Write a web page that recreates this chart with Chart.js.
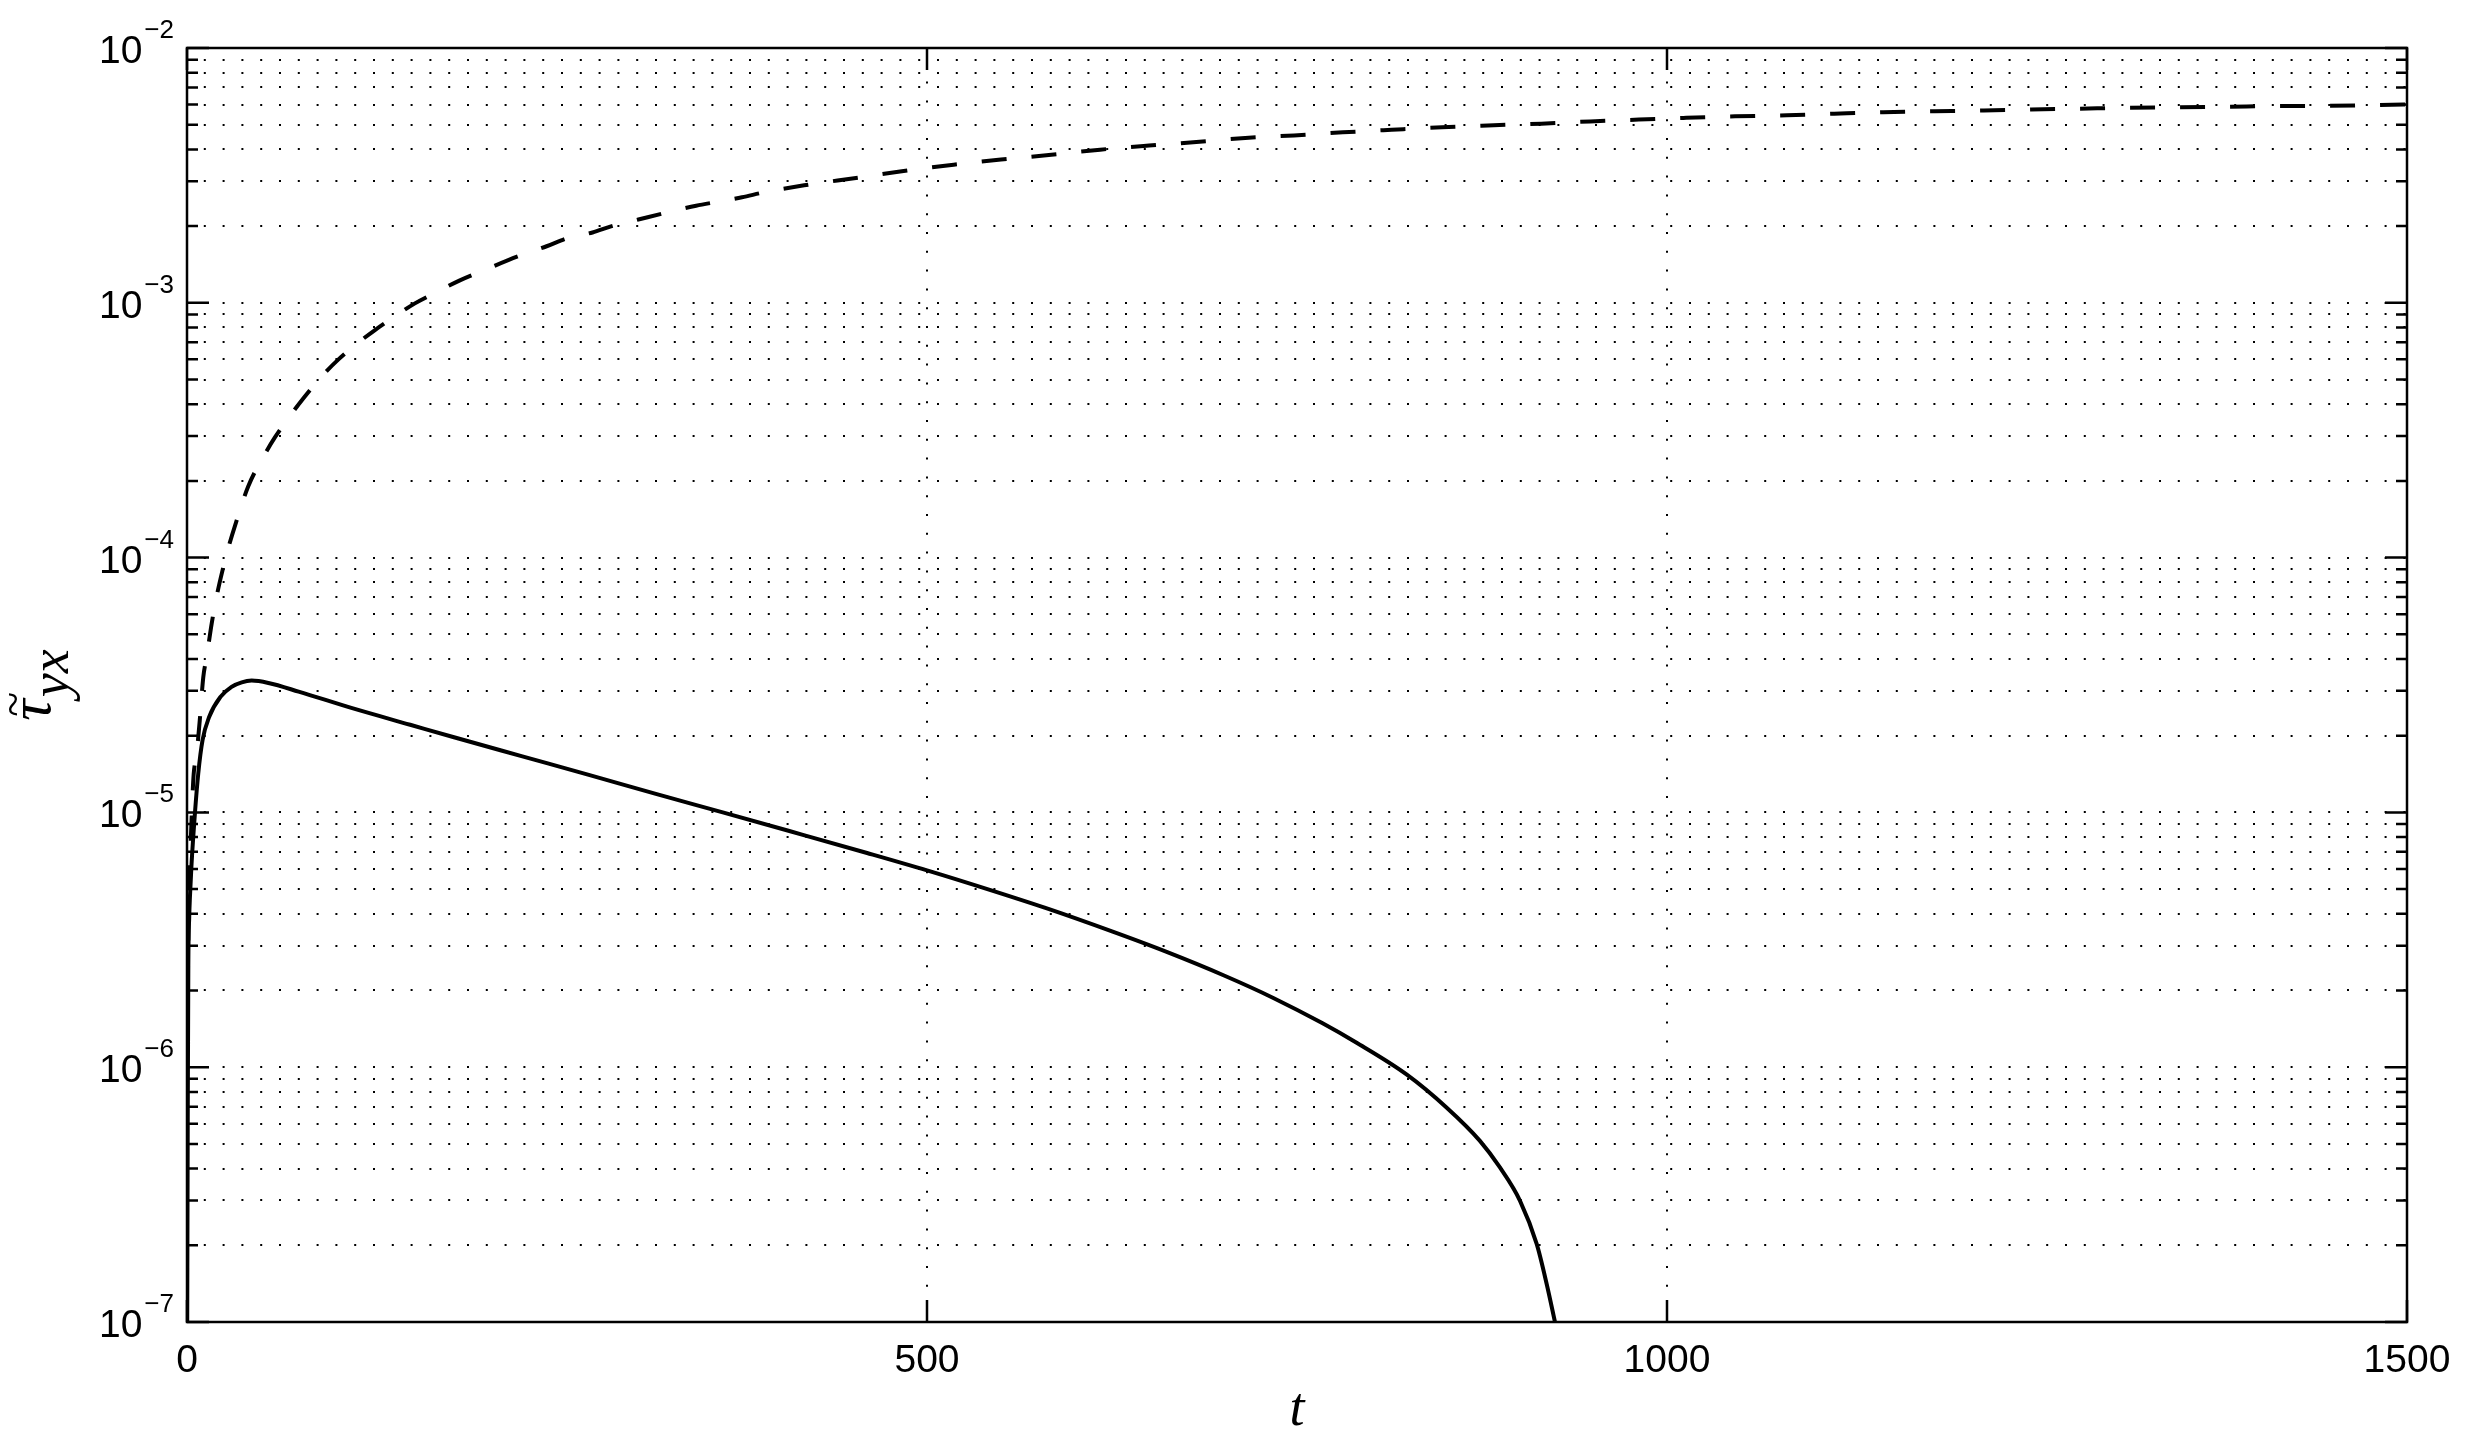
<!DOCTYPE html>
<html>
<head>
<meta charset="utf-8">
<script src="https://cdn.jsdelivr.net/npm/chart.js@4.4.0/dist/chart.umd.min.js"></script>
<style>
  html, body { margin: 0; padding: 0; background: #fff; }
  canvas { display: block; }
</style>
</head>
<body>
<canvas id="chart" width="2468" height="1444"></canvas>
<script>
// valeurs (t, tau_yx)
var tDashed = [0.5, 1.5, 2.4, 3.6, 4.5, 6.5, 8.6, 11, 13.3, 16.7, 20, 24, 28.4, 32.3, 41.4, 53, 59.5, 69.8, 78.8, 90.5,
  102, 114, 127, 141, 154, 169, 184, 199, 228, 243, 257, 274, 287, 305, 326, 344, 358, 375, 390, 417,
  452, 483, 518, 550, 584, 617, 650, 682, 715, 748, 781, 814, 848, 883, 915, 948, 981, 1013, 1046, 1081,
  1113, 1146, 1181, 1214, 1246, 1279, 1309, 1344, 1377, 1410, 1444, 1477, 1500];
var tauDashed = [2.0e-6, 5.9e-6, 7.4e-6, 1.12e-5, 1.41e-5, 1.70e-5, 2.29e-5, 3.39e-5, 4.08e-5, 5.52e-5, 7.03e-5, 8.91e-5, 1.117e-4, 1.327e-4, 1.905e-4, 2.57e-4, 2.97e-4, 3.61e-4, 4.23e-4, 5.11e-4,
  5.97e-4, 6.85e-4, 7.82e-4, 8.89e-4, 9.95e-4, 1.104e-3, 1.222e-3, 1.330e-3, 1.556e-3, 1.667e-3, 1.795e-3, 1.888e-3, 2.000e-3, 2.123e-3, 2.275e-3, 2.404e-3, 2.489e-3, 2.594e-3, 2.716e-3, 2.891e-3,
  3.090e-3, 3.281e-3, 3.483e-3, 3.648e-3, 3.811e-3, 3.990e-3, 4.140e-3, 4.276e-3, 4.436e-3, 4.539e-3, 4.667e-3, 4.775e-3, 4.887e-3, 4.977e-3, 5.047e-3, 5.152e-3, 5.236e-3, 5.321e-3, 5.395e-3, 5.445e-3,
  5.521e-3, 5.598e-3, 5.649e-3, 5.689e-3, 5.741e-3, 5.781e-3, 5.821e-3, 5.848e-3, 5.875e-3, 5.916e-3, 5.929e-3, 5.970e-3, 5.998e-3];

var tSolid = [0.1, 0.5, 0.9, 1.5, 2, 3, 5.4, 7.6, 10.5, 15.1, 22.6, 30.1, 37, 43.7, 55, 75.4, 111.6, 150.8, 181, 226,
  271.5, 316.8, 362, 407, 459.5, 500, 544, 583, 625, 661.5, 700.7, 734, 767, 790, 824, 851, 873.6, 887, 900.7, 912,
  918.7, 924.3, 930];
var tauSolid = [8.0e-8, 6.3e-7, 2.51e-6, 3.89e-6, 4.68e-6, 6.17e-6, 1.0e-5, 1.42e-5, 1.92e-5, 2.38e-5, 2.84e-5, 3.11e-5, 3.24e-5, 3.29e-5, 3.22e-5, 2.98e-5, 2.564e-5, 2.208e-5, 1.968e-5, 1.663e-5,
  1.403e-5, 1.183e-5, 1.0e-5, 8.45e-6, 6.93e-6, 5.92e-6, 4.93e-6, 4.16e-6, 3.41e-6, 2.84e-6, 2.29e-6, 1.87e-6, 1.49e-6, 1.25e-6, 9.37e-7, 6.95e-7, 5.14e-7, 4.05e-7, 2.99e-7, 2.02e-7,
  1.41e-7, 1.0e-7, 7.0e-8];

var xTicks = [0, 500, 1000, 1500];
var xTickLabels = ['0', '500', '1000', '1500'];
var yDecades = [1e-7, 1e-6, 1e-5, 1e-4, 1e-3, 1e-2];
var yTickLabels = ['\u22127', '\u22126', '\u22125', '\u22124', '\u22123', '\u22122'];
var yMinor = [2, 3, 4, 5, 6, 7, 8, 9];

function toPoints(xs, ys) {
    var pts = [];
    for (var i = 0; i < xs.length; i++) {
        pts.push({ x: xs[i], y: ys[i] });
    }
    return pts;
}

// cadre, graduations intérieures et textes
var axesPlugin = {
    id: 'axesPlugin',
    afterDraw: function (chart) {
        var ctx = chart.ctx;
        var a = chart.chartArea;
        var xs = chart.scales.x;
        var ys = chart.scales.y;
        ctx.save();
        ctx.strokeStyle = '#000';
        ctx.fillStyle = '#000';
        ctx.lineWidth = 2.5;
        ctx.strokeRect(a.left, a.top, a.right - a.left, a.bottom - a.top);

        ys.ticks.forEach(function (tk) {
            var py = ys.getPixelForValue(tk.value);
            var len = tk.major ? 22 : 11;
            ctx.beginPath();
            ctx.moveTo(a.left, py); ctx.lineTo(a.left + len, py);
            ctx.moveTo(a.right, py); ctx.lineTo(a.right - len, py);
            ctx.stroke();
        });
        xs.ticks.forEach(function (tk) {
            var px = xs.getPixelForValue(tk.value);
            ctx.beginPath();
            ctx.moveTo(px, a.bottom); ctx.lineTo(px, a.bottom - 22);
            ctx.moveTo(px, a.top); ctx.lineTo(px, a.top + 22);
            ctx.stroke();
        });

        // étiquettes x
        ctx.font = '39px "Liberation Sans", Arial, sans-serif';
        ctx.textAlign = 'center';
        ctx.textBaseline = 'alphabetic';
        xTicks.forEach(function (v, i) {
            ctx.fillText(xTickLabels[i], xs.getPixelForValue(v), a.bottom + 50);
        });

        // étiquettes y : 10 puissance
        yDecades.forEach(function (v, i) {
            var py = ys.getPixelForValue(v);
            var right = a.left - 13;
            ctx.font = '26px "Liberation Sans", Arial, sans-serif';
            ctx.textAlign = 'right';
            var expW = ctx.measureText(yTickLabels[i]).width;
            ctx.fillText(yTickLabels[i], right, py - 10);
            ctx.font = '39px "Liberation Sans", Arial, sans-serif';
            ctx.fillText('10', right - expW - 2, py + 15);
        });

        // titre x
        ctx.font = 'italic 54px "Liberation Serif", "DejaVu Serif", serif';
        ctx.textAlign = 'center';
        ctx.fillText('t', (a.left + a.right) / 2, 1425);

        // titre y (tau tilde, indice yx)
        ctx.translate(50, (a.top + a.bottom) / 2);
        ctx.rotate(-Math.PI / 2);
        ctx.textAlign = 'left';
        ctx.font = 'italic 60px "Liberation Serif", "DejaVu Serif", serif';
        var tauW = ctx.measureText('\u03c4').width;
        ctx.font = 'italic 54px "Liberation Serif", "DejaVu Serif", serif';
        var subW = ctx.measureText('yx').width;
        var x0 = -(tauW + subW + 2) / 2;
        ctx.font = 'italic 60px "Liberation Serif", "DejaVu Serif", serif';
        ctx.fillText('\u03c4', x0, 0);
        ctx.font = '46px "Liberation Serif", "DejaVu Serif", serif';
        ctx.fillText('~', x0 + 4, -22);
        ctx.font = 'italic 54px "Liberation Serif", "DejaVu Serif", serif';
        ctx.fillText('yx', x0 + tauW + 2, 18);
        ctx.restore();
    }
};

var ctx = document.getElementById('chart').getContext('2d');

var chart = new Chart(ctx, {
    type: 'scatter',
    data: {
        datasets: [{
            label: 'dashed',
            data: toPoints(tDashed, tauDashed),
            showLine: true,
            borderColor: '#000',
            borderWidth: 4,
            borderDash: [25, 25],
            pointRadius: 0,
            cubicInterpolationMode: 'monotone'
        }, {
            label: 'solid',
            data: toPoints(tSolid, tauSolid),
            showLine: true,
            borderColor: '#000',
            borderWidth: 4,
            pointRadius: 0,
            cubicInterpolationMode: 'monotone'
        }]
    },
    options: {
        responsive: false,
        animation: false,
        devicePixelRatio: 1,
        layout: { padding: { left: 187, top: 48, right: 61, bottom: 122 } },
        plugins: { legend: { display: false }, tooltip: { enabled: false } },
        scales: {
            x: {
                type: 'linear',
                min: 0,
                max: 1500,
                ticks: { display: false },
                grid: { color: '#000', lineWidth: 2, drawTicks: false },
                border: { display: false, dash: [2, 16.8], dashOffset: 4 },
                afterBuildTicks: function (scale) {
                    scale.ticks = xTicks.map(function (v) { return { value: v }; });
                },
                afterFit: function (scale) { scale.height = 0; }
            },
            y: {
                type: 'logarithmic',
                min: 1e-7,
                max: 1e-2,
                ticks: { display: false },
                grid: { color: '#000', lineWidth: 2, drawTicks: false },
                border: { display: false, dash: [2, 16.8], dashOffset: 2 },
                afterBuildTicks: function (scale) {
                    var tks = [];
                    yDecades.forEach(function (d) {
                        tks.push({ value: d, major: true });
                        if (d < 1e-2) {
                            yMinor.forEach(function (m) { tks.push({ value: m * d, major: false }); });
                        }
                    });
                    scale.ticks = tks;
                },
                afterFit: function (scale) { scale.width = 0; }
            }
        }
    },
    plugins: [axesPlugin]
});
</script>
</body>
</html>
